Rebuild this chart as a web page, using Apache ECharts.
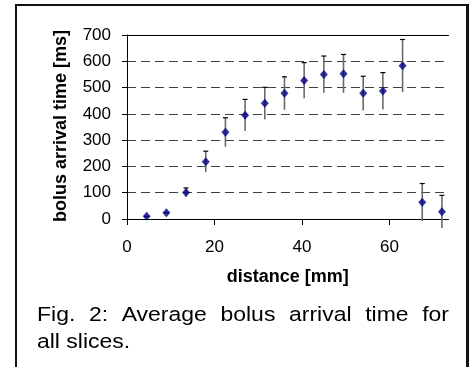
<!DOCTYPE html>
<html>
<head>
<meta charset="utf-8">
<script src="https://cdn.jsdelivr.net/npm/echarts@6/dist/echarts.min.js"></script>
<style>
html,body{margin:0;padding:0;background:#fff;}
#chart{width:472px;height:367px;}
</style>
</head>
<body>
<div id="chart"></div>
<script>
// distance [mm]
const distances = [4.5, 9, 13.5, 18, 22.5, 27, 31.5, 36, 40.5, 45, 49.5, 54, 58.5, 63, 67.5, 72];
// mean bolus arrival time [ms]
const arrivalTimes = [10, 24, 101, 218, 330, 395, 440, 478, 527, 550, 553, 478, 487, 583, 64, 28];
// error bar half-lengths [ms]
const errors = [0, 0, 17, 40, 55, 60, 61, 63, 68, 70, 73, 65, 70, 100, 71, 62];
const xTickValues = [0, 20, 40, 60];
const yTickValues = [0, 100, 200, 300, 400, 500, 600, 700];
const xTitle = 'distance [mm]';
const yTitle = 'bolus arrival time [ms]';
const captionLine1 = ['Fig.', '2:', 'Average', 'bolus', 'arrival', 'time', 'for'];
const captionLine2 = 'all slices.';

const FONT = '"Liberation Sans", Arial, sans-serif';
const chart = echarts.init(document.getElementById('chart'), null, {renderer: 'canvas'});

const scatterData = distances.map((d, i) => [d, arrivalTimes[i]]);
const errData = distances.map((d, i) => [d, arrivalTimes[i], errors[i]]);

// justified caption line (text slightly widened like the reference)
const capSize = 20.5, capScale = 1.12;
const ctx = document.createElement('canvas').getContext('2d');
ctx.font = capSize + 'px ' + FONT;
const capLeft = 37, capRight = 449;
const widths = captionLine1.map(w => ctx.measureText(w).width * capScale);
const totalW = widths.reduce((a, b) => a + b, 0);
const gap = (capRight - capLeft - totalW) / (captionLine1.length - 1);
const capElems = [];
let cx = capLeft;
captionLine1.forEach((w, i) => {
  capElems.push({type: 'text', x: cx, y: 305, scaleX: capScale,
    style: {text: w, font: capSize + 'px ' + FONT, fill: '#000', verticalAlign: 'top'}});
  cx += widths[i] + gap;
});
capElems.push({type: 'text', x: capLeft, y: 332, scaleX: capScale,
  style: {text: captionLine2, font: capSize + 'px ' + FONT, fill: '#000', verticalAlign: 'top'}});

const option = {
  animation: false,
  backgroundColor: '#fff',
  grid: {left: 127, top: 35, right: 23.5, bottom: 148, containLabel: false},
  xAxis: [{
    type: 'value', min: 0, max: 73.5, interval: 20,
    name: xTitle, nameLocation: 'middle', nameGap: 49,
    nameTextStyle: {fontFamily: FONT, fontSize: 18, fontWeight: 'bold', color: '#000'},
    axisLine: {show: true, lineStyle: {color: '#000', width: 1}},
    axisTick: {show: true, inside: false, length: 6, lineStyle: {color: '#000'}, customValues: xTickValues},
    axisLabel: {fontFamily: FONT, fontSize: 17, color: '#000', margin: 20, customValues: xTickValues},
    splitLine: {show: false}
  }, {
    type: 'value', min: 0, max: 73.5, position: 'top',
    axisLine: {show: true, lineStyle: {color: '#000', width: 1}},
    axisTick: {show: false}, axisLabel: {show: false}, splitLine: {show: false}
  }],
  yAxis: {
    type: 'value', min: 0, max: 700, interval: 100,
    name: yTitle, nameLocation: 'middle', nameGap: 57, nameRotate: 90,
    nameTextStyle: {fontFamily: FONT, fontSize: 18, fontWeight: 'bold', color: '#000', padding: [0, 0, 0, 2]},
    axisLine: {show: true, lineStyle: {color: '#000', width: 1}},
    axisTick: {show: true, inside: false, length: 5, lineStyle: {color: '#000'}},
    axisLabel: {fontFamily: FONT, fontSize: 17, color: '#000', margin: 16,
      customValues: yTickValues},
    splitLine: {show: true, lineStyle: {color: '#404040', width: 1, type: [9, 5]}}
  },
  series: [{
    type: 'custom',
    xAxisIndex: 0,
    clip: false,
    data: errData,
    renderItem: function (params, api) {
      const x = api.value(0), y = api.value(1), e = api.value(2);
      const top = api.coord([x, y + e]);
      const bot = api.coord([x, y - e]);
      const hw = 2.5;
      return {
        type: 'group',
        children: [
          {type: 'line', shape: {x1: top[0], y1: top[1], x2: bot[0], y2: bot[1]},
            style: {stroke: '#6a6a6a', lineWidth: 1.6}},
          {type: 'line', shape: {x1: top[0] - hw, y1: top[1], x2: top[0] + hw, y2: top[1]},
            style: {stroke: '#000', lineWidth: 1.2}}
        ]
      };
    },
    z: 2
  }, {
    type: 'scatter',
    xAxisIndex: 0,
    data: scatterData,
    symbol: 'diamond',
    symbolSize: [8, 9],
    itemStyle: {color: '#000080'},
    z: 3
  }],
  graphic: [
    {type: 'line', shape: {x1: 16, y1: 5, x2: 16, y2: 367}, style: {stroke: '#111', lineWidth: 2}},
    {type: 'line', shape: {x1: 15, y1: 5, x2: 469, y2: 5}, style: {stroke: '#111', lineWidth: 2}},
    {type: 'line', shape: {x1: 467.5, y1: 4, x2: 467.5, y2: 367}, style: {stroke: '#111', lineWidth: 3}}
  ].concat(capElems)
};
chart.setOption(option);
</script>
</body>
</html>
